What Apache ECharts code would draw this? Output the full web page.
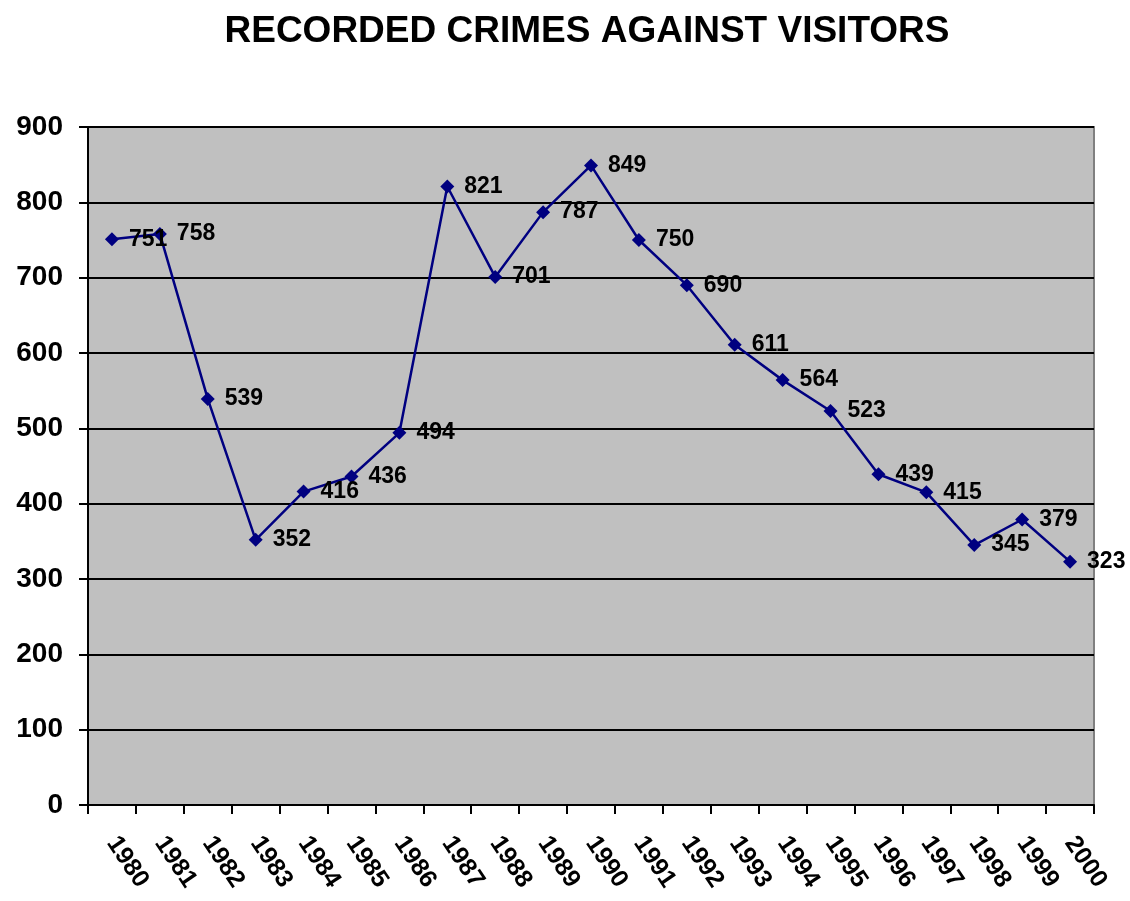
<!DOCTYPE html>
<html>
<head>
<meta charset="utf-8">
<script src="https://cdn.jsdelivr.net/npm/echarts@6/dist/echarts.min.js"></script>
<style>
  html, body { margin: 0; padding: 0; background: #fff; }
  #chart { width: 1130px; height: 901px; }
</style>
</head>
<body>
<div id="chart"></div>
<script>
// Years on the category axis
const years = ['1980','1981','1982','1983','1984','1985','1986','1987','1988','1989','1990',
               '1991','1992','1993','1994','1995','1996','1997','1998','1999','2000'];
// Recorded crimes per year
const crimes = [751, 758, 539, 352, 416, 436, 494, 821, 701, 787, 849,
                750, 690, 611, 564, 523, 439, 415, 345, 379, 323];
const yTicks = { min: 0, max: 900, interval: 100 };

const FONT = '"Liberation Sans", Arial, sans-serif';
const chart = echarts.init(document.getElementById('chart'), null, { renderer: 'canvas' });

chart.setOption({
  animation: false,
  backgroundColor: '#ffffff',
  title: {
    text: 'RECORDED CRIMES AGAINST VISITORS',
    left: 582,
    top: 8,
    textAlign: 'center',
    textStyle: { fontFamily: FONT, fontSize: 37, fontWeight: 'bold', color: '#000' }
  },
  grid: {
    left: 88, right: 36, top: 127, bottom: 96,
    show: true,
    backgroundColor: '#c0c0c0',
    borderColor: '#808080',
    borderWidth: 2
  },
  xAxis: {
    type: 'category',
    data: years,
    boundaryGap: true,
    axisLine: { lineStyle: { color: '#000', width: 2 } },
    axisTick: { show: true, length: 9, lineStyle: { color: '#000', width: 2 } },
    axisLabel: {
      rotate: -56,
      margin: 34,
      fontFamily: FONT, fontSize: 25, fontWeight: 'bold', color: '#000'
    }
  },
  yAxis: {
    type: 'value',
    min: yTicks.min, max: yTicks.max, interval: yTicks.interval,
    axisLine: { show: true, lineStyle: { color: '#000', width: 2 } },
    axisTick: { show: true, length: 9, lineStyle: { color: '#000', width: 2 } },
    axisLabel: {
      margin: 25,
      fontFamily: FONT, fontSize: 28, fontWeight: 'bold', color: '#000'
    },
    splitLine: { show: true, lineStyle: { color: '#000', width: 2 } }
  },
  series: [{
    type: 'line',
    data: crimes,
    lineStyle: { color: '#000080', width: 2.5 },
    itemStyle: { color: '#000080' },
    symbol: 'diamond',
    symbolSize: 14,
    label: {
      show: true,
      position: 'right',
      distance: 10,
      fontFamily: FONT, fontSize: 23, fontWeight: 'bold', color: '#000'
    }
  }]
});
</script>
</body>
</html>
